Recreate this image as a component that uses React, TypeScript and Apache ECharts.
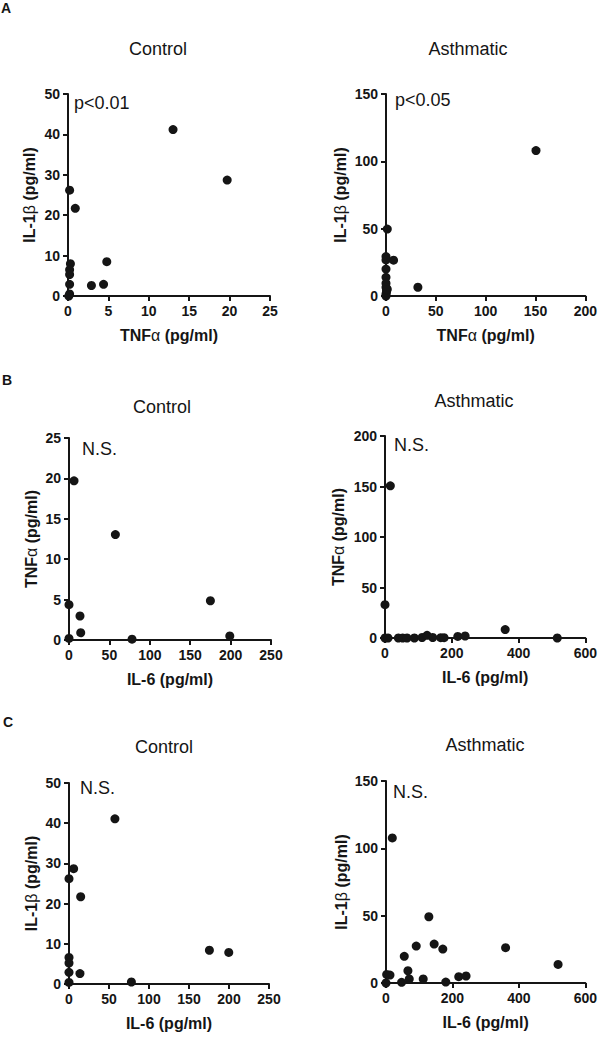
import React, { useEffect, useRef } from "react";
import * as echarts from "echarts";

// Panel A – Control: TNFα (x) vs IL-1β (y)
const aCtrlTnf = [13.0, 19.7, 0.2, 0.9, 0.3, 0.2, 0.2, 4.8, 0.2, 2.9, 4.4, 0.2, 0.1];
const aCtrlIl1b = [41.2, 28.7, 26.2, 21.7, 8.0, 6.5, 5.3, 8.5, 2.9, 2.6, 2.9, 0.5, 0];
// Panel A – Asthmatic: TNFα vs IL-1β
const aAsthTnf = [150.5, 1.3, 0, 0, 7.6, 0, 0, 0, 1.3, 32, 0, 0, 0, 0.5, 0.5];
const aAsthIl1b = [108, 49.7, 29.3, 26.8, 26.6, 20, 13.9, 9.4, 5, 6.5, 1.5, 0, 6.5, 3, 4.7];
// Panel B – Control: IL-6 vs TNFα
const bCtrlIl6 = [6.2, 57.4, 0, 13.6, 14.5, 0, 78, 175, 199];
const bCtrlTnf = [19.7, 13.05, 4.37, 2.97, 0.9, 0.2, 0.1, 4.86, 0.5];
// Panel B – Asthmatic: IL-6 vs TNFα
const bAsthIl6 = [16, 0, 360, 516, 0, 9, 40, 53, 66, 88, 111, 126, 143, 167, 177, 218, 240];
const bAsthTnf = [150.7, 33, 8.3, 0, 0, 0, 0, 0, 0, 0, 0.5, 2.6, 0.5, 0.3, 0.3, 1.6, 2];
// Panel C – Control: IL-6 vs IL-1β
const cCtrlIl6 = [57.4, 5.8, 0, 14.6, 0, 0, 0, 13.7, 0, 78, 175.5, 199.7];
const cCtrlIl1b = [41.1, 28.7, 26.2, 21.7, 6.6, 5.2, 2.9, 2.6, 0.4, 0.5, 8.4, 7.85];
// Panel C – Asthmatic: IL-6 vs IL-1β
const cAsthIl6 = [19, 129, 91, 145, 171, 360, 55, 518, 66, 2, 12, 70, 112, 219, 241, 47, 180, 0];
const cAsthIl1b = [107.7, 49.2, 27.4, 28.9, 25.2, 26.2, 19.8, 13.8, 9.1, 6.4, 5.9, 3, 3, 4.7, 5.2, 0.5, 0.7, 0];

const panelTitles = ["Control", "Asthmatic", "Control", "Asthmatic", "Control", "Asthmatic"];
const annotations = ["p<0.01", "p<0.05", "N.S.", "N.S.", "N.S.", "N.S."];
const panelLetters = ["A", "B", "C"];
const xNames = ["TNF{g|α} (pg/ml)", "TNF{g|α} (pg/ml)", "IL-6 (pg/ml)", "IL-6 (pg/ml)", "IL-6 (pg/ml)", "IL-6 (pg/ml)"];
const yNames = ["IL-1{g|β} (pg/ml)", "IL-1{g|β} (pg/ml)", "TNF{g|α} (pg/ml)", "TNF{g|α} (pg/ml)", "IL-1{g|β} (pg/ml)", "IL-1{g|β} (pg/ml)"];
const xMax = [25, 200, 250, 600, 250, 600];
const xStep = [5, 50, 50, 200, 50, 200];
const yMax = [50, 150, 25, 200, 50, 150];
const yStep = [10, 50, 5, 50, 10, 50];

const seriesX = [aCtrlTnf, aAsthTnf, bCtrlIl6, bAsthIl6, cCtrlIl6, cAsthIl6];
const seriesY = [aCtrlIl1b, aAsthIl1b, bCtrlTnf, bAsthTnf, cCtrlIl1b, cAsthIl1b];

// layout
const grids = [
  { left: 68, top: 94, width: 202, height: 202 },
  { left: 386, top: 94, width: 201, height: 202 },
  { left: 69, top: 438, width: 202, height: 202 },
  { left: 385, top: 436, width: 202, height: 202 },
  { left: 69, top: 783, width: 200, height: 201 },
  { left: 386, top: 781, width: 201, height: 202 },
];
const titlePos = [
  [158, 49], [468, 49], [162, 407], [474, 401], [164, 747], [485, 745],
];
const annoPos = [
  [74, 103], [395, 100], [82, 449], [394, 445], [80, 788], [393, 792],
];
const letterPos = [[1, 8], [2, 380], [3, 722]];
const yNameGap = [31, 38, 30, 39, 30, 37];

const FONT = "'Liberation Sans', Arial, sans-serif";
const INK = "#151515";

export default function App() {
  const ref = useRef<HTMLDivElement>(null);
  useEffect(() => {
    if (!ref.current) return;
    const chart = echarts.init(ref.current, undefined, { renderer: "svg" });
    const rich = { g: { fontFamily: FONT, fontWeight: "normal", fontSize: 16, color: INK } };
    const axisCommon = {
      type: "value",
      min: 0,
      splitLine: { show: false },
      axisLine: { show: true, onZero: false, lineStyle: { color: INK, width: 2 } },
      axisTick: { show: true, inside: false, length: 5, lineStyle: { color: INK, width: 2 } },
      axisLabel: { color: INK, fontFamily: FONT, fontWeight: "bold", fontSize: 14, margin: 8 },
      nameLocation: "middle",
      nameTextStyle: { color: INK, fontFamily: FONT, fontWeight: "bold", fontSize: 16, rich },
    };
    const graphics: any[] = [];
    panelTitles.forEach((t, i) => {
      graphics.push({
        type: "text", x: titlePos[i][0], y: titlePos[i][1],
        style: { text: t, fill: INK, font: `normal 18px ${FONT}`, align: "center", verticalAlign: "middle" },
      });
      graphics.push({
        type: "text", x: annoPos[i][0], y: annoPos[i][1],
        style: { text: annotations[i], fill: INK, font: `normal 18px ${FONT}`, align: "left", verticalAlign: "middle" },
      });
    });
    panelLetters.forEach((l, i) => {
      graphics.push({
        type: "text", x: letterPos[i][0], y: letterPos[i][1],
        style: { text: l, fill: INK, font: `bold 14px ${FONT}`, align: "left", verticalAlign: "middle" },
      });
    });
    chart.setOption({
      animation: false,
      backgroundColor: "#ffffff",
      grid: grids.map((g) => ({ ...g })),
      xAxis: grids.map((_, i) => ({
        ...axisCommon,
        gridIndex: i,
        max: xMax[i],
        interval: xStep[i],
        name: xNames[i],
        nameGap: 31,
      })),
      yAxis: grids.map((_, i) => ({
        ...axisCommon,
        gridIndex: i,
        max: yMax[i],
        interval: yStep[i],
        name: yNames[i],
        nameGap: yNameGap[i],
      })),
      series: grids.map((_, i) => ({
        type: "scatter",
        xAxisIndex: i,
        yAxisIndex: i,
        symbol: "circle",
        symbolSize: 9,
        clip: false,
        itemStyle: { color: INK, opacity: 1 },
        data: seriesX[i].map((x, k) => [x, seriesY[i][k]]),
      })),
      graphic: graphics,
    });
    return () => chart.dispose();
  }, []);
  return (
    <div
      ref={ref}
      style={{ position: "absolute", left: 0, top: 0, width: 600, height: 1039, background: "#fff" }}
    />
  );
}
